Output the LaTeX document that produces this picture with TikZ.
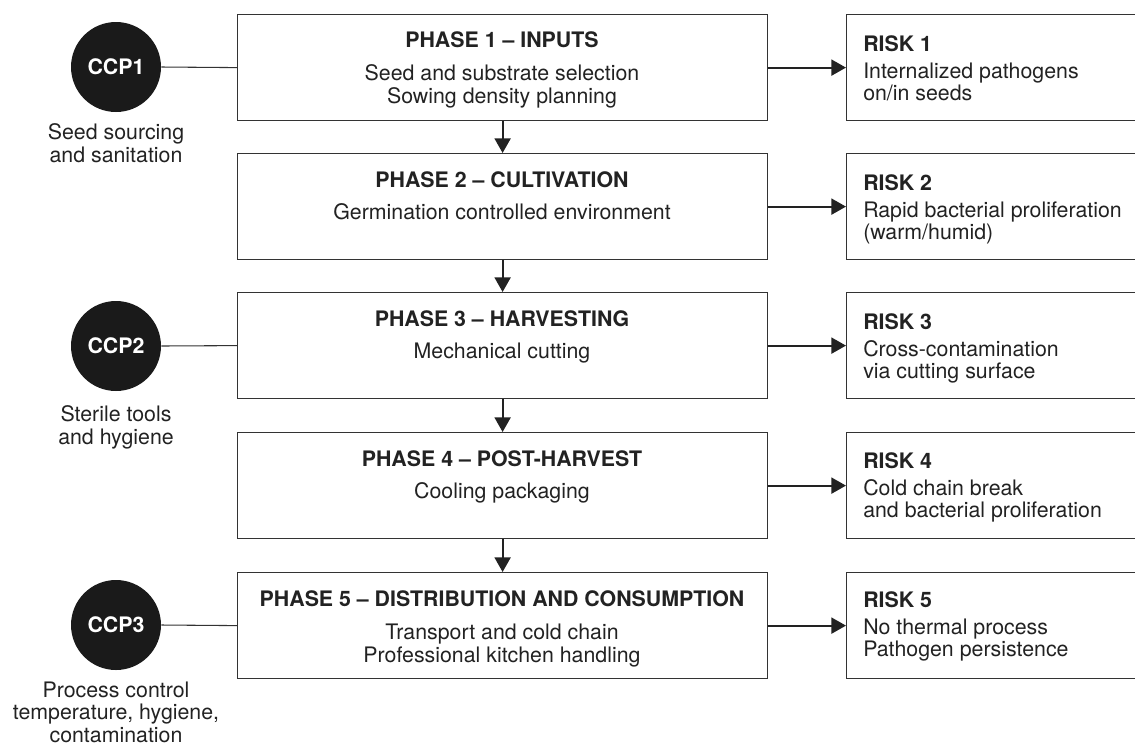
\documentclass[tikz,border=0pt]{standalone}
\usepackage{fontspec}
\setmainfont{TeX Gyre Heros}
\usetikzlibrary{arrows.meta}
\definecolor{ink}{HTML}{222222}
\definecolor{edgec}{HTML}{333333}
\definecolor{dotc}{HTML}{1A1A1A}
\begin{document}
\begin{tikzpicture}[x=0.75pt,y=-0.75pt,
  box/.style={draw=edgec,line width=0.9pt,fill=white,rectangle,anchor=north west,minimum height=79.5pt,inner sep=0pt},
  phasebox/.style={box,minimum width=397.5pt},
  riskbox/.style={box,minimum width=225pt},
  txt/.style={text=ink,font=\fontsize{16}{18}\selectfont,inner sep=0pt,anchor=base},
  ttl/.style={txt,font=\fontsize{16}{18}\selectfont\bfseries},
  rtxt/.style={txt,anchor=base west},
  rttl/.style={ttl,anchor=base west},
  flow/.style={draw=ink,line width=1.6pt,-{Triangle[length=11pt,width=12pt]}},
  link/.style={draw=edgec,line width=0.8pt},
  ccp/.style={circle,fill=dotc,minimum size=67.5pt,inner sep=0pt,text=white,font=\fontsize{16}{18}\selectfont\bfseries}
]
\useasboundingbox (0,0) rectangle (1135,751);
\clip (0,0) rectangle (1135,751);

% phase boxes
\node[phasebox] (p1) at (237,14) {};
\node[phasebox] (p2) at (237,153) {};
\node[phasebox] (p3) at (237,292) {};
\node[phasebox] (p4) at (237,432) {};
\node[phasebox] (p5) at (237,572) {};

% risk boxes
\node[riskbox] (r1) at (846,14) {};
\node[riskbox] (r2) at (846,153) {};
\node[riskbox] (r3) at (846,292) {};
\node[riskbox] (r4) at (846,432) {};
\node[riskbox] (r5) at (846,572) {};

% phase texts
\node[ttl] (p1a) at (502,47) {PHASE 1 -- INPUTS};
\node[txt] (p1b) at (502,80) {Seed and substrate selection};
\node[txt] (p1c) at (502,103) {Sowing density planning};

\node[ttl] (p2a) at (502,187) {PHASE 2 -- CULTIVATION};
\node[txt] (p2b) at (502,219) {Germination controlled environment};

\node[ttl] (p3a) at (502,326) {PHASE 3 -- HARVESTING};
\node[txt] (p3b) at (502,358) {Mechanical cutting};

\node[ttl] (p4a) at (502,466) {PHASE 4 -- POST-HARVEST};
\node[txt] (p4b) at (502,498) {Cooling packaging};

\node[ttl] (p5a) at (502,606) {PHASE 5 -- DISTRIBUTION AND CONSUMPTION};
\node[txt] (p5b) at (502,639) {Transport and cold chain};
\node[txt] (p5c) at (502,662) {Professional kitchen handling};

% risk texts
\node[rttl] (r1a) at (863,51) {RISK 1};
\node[rtxt] (r1b) at (863,78) {Internalized pathogens};
\node[rtxt] (r1c) at (863,100) {on/in seeds};

\node[rttl] (r2a) at (863,190) {RISK 2};
\node[rtxt] (r2b) at (863,217) {Rapid bacterial proliferation};
\node[rtxt] (r2c) at (863,239) {(warm/humid)};

\node[rttl] (r3a) at (863,329) {RISK 3};
\node[rtxt] (r3b) at (863,356) {Cross-contamination};
\node[rtxt] (r3c) at (863,378) {via cutting surface};

\node[rttl] (r4a) at (863,468) {RISK 4};
\node[rtxt] (r4b) at (863,495) {Cold chain break};
\node[rtxt] (r4c) at (863,517) {and bacterial proliferation};

\node[rttl] (r5a) at (863,607) {RISK 5};
\node[rtxt] (r5b) at (863,634) {No thermal process};
\node[rtxt] (r5c) at (863,656) {Pathogen persistence};

% flow arrows
\draw[flow] (p1.south) -- (p2.north);
\draw[flow] (p2.south) -- (p3.north);
\draw[flow] (p3.south) -- (p4.north);
\draw[flow] (p4.south) -- (p5.north);

\draw[flow] (p1.east) -- (r1.west);
\draw[flow] (p2.east) -- (r2.west);
\draw[flow] (p3.east) -- (r3.west);
\draw[flow] (p4.east) -- (r4.west);
\draw[flow] (p5.east) -- (r5.west);

% CCPs
\node[ccp] (c1) at (116,67) {CCP1};
\node[ccp] (c2) at (116,346) {CCP2};
\node[ccp] (c3) at (116,625) {CCP3};
\draw[link] (c1.east) -- (p1.west);
\draw[link] (c2.east) -- (p3.west);
\draw[link] (c3.east) -- (p5.west);

\node[txt] (c1a) at (116,139) {Seed sourcing};
\node[txt] (c1b) at (116,162) {and sanitation};
\node[txt] (c2a) at (116,421) {Sterile tools};
\node[txt] (c2b) at (116,444) {and hygiene};
\node[txt] (c3a) at (116,697) {Process control};
\node[txt] (c3b) at (116,719) {temperature, hygiene,};
\node[txt] (c3c) at (116,742) {contamination};
\end{tikzpicture}
\end{document}
